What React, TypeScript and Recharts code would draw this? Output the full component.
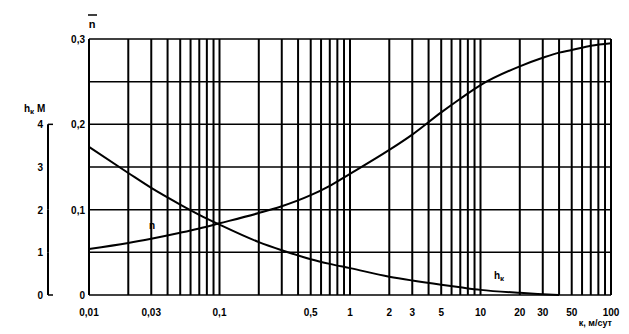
import { LineChart, Line, XAxis, YAxis, CartesianGrid } from "recharts";

const kValues = [0.01, 0.02, 0.03, 0.05, 0.07, 0.1, 0.2, 0.3, 0.5, 0.7, 1, 2, 3, 5, 7, 10, 20, 30, 40, 50, 70, 100];
const nValues = [0.054, 0.061, 0.066, 0.073, 0.078, 0.084, 0.096, 0.104, 0.117, 0.128, 0.142, 0.17, 0.188, 0.214, 0.23, 0.246, 0.268, 0.278, 0.284, 0.287, 0.292, 0.295];
const hValues = [3.47, 2.86, 2.51, 2.12, 1.88, 1.65, 1.24, 1.05, 0.84, 0.73, 0.63, 0.43, 0.34, 0.24, 0.18, 0.12, 0.05, 0.02, 0.0, null, null, null];

const xTicks = [
  0.01, 0.02, 0.03, 0.04, 0.05, 0.06, 0.07, 0.08, 0.09,
  0.1, 0.2, 0.3, 0.4, 0.5, 0.6, 0.7, 0.8, 0.9,
  1, 2, 3, 4, 5, 6, 7, 8, 9,
  10, 20, 30, 40, 50, 60, 70, 80, 90, 100,
];
const xLabels = [0.01, 0.03, 0.1, 0.5, 1, 2, 3, 5, 10, 20, 30, 50, 100];
const nTicks = [0, 0.05, 0.1, 0.15, 0.2, 0.25, 0.3];
const nLabels = [0, 0.1, 0.2, 0.3];
const hTicks = [0, 1, 2, 3, 4];

const data = kValues.map((k, i) => ({ k, n: nValues[i], h: hValues[i] }));

const W = 629;
const H = 334;
const X_AXIS_H = 30;
const M = { top: 39, right: 18, bottom: 9, left: 0 };
const STEP = (H - M.top - M.bottom - X_AXIS_H) / 6; // px per 1 m of h
const FONT = "'Liberation Sans', Arial, sans-serif";

const comma = (v: number) => String(v).replace(".", ",");

function NTick(props: any) {
  const { y, payload } = props;
  const v = payload.value;
  if (!nLabels.includes(v)) return null;
  return (
    <text x={85} y={y} dy={4} textAnchor="end" fontSize={10} fontWeight="bold" fontFamily={FONT} fill="#000">
      {comma(v)}
    </text>
  );
}

function HTick(props: any) {
  const { y, payload } = props;
  const v = payload.value;
  const bx = 48;
  return (
    <g>
      <text x={43} y={y} dy={4} textAnchor="end" fontSize={10} fontWeight="bold" fontFamily={FONT} fill="#000">
        {v}
      </text>
      {v > 0 && <line x1={bx} x2={bx} y1={y} y2={y + STEP} stroke="#000" strokeWidth={2} />}
      {(v === 0 || v === 4) && <line x1={bx} x2={bx + 5} y1={y} y2={y} stroke="#000" strokeWidth={1.5} />}
    </g>
  );
}

export default function App() {
  return (
    <div style={{ position: "absolute", left: 0, top: 0, background: "#fff" }}>
      <LineChart width={W} height={H} data={data} margin={M}>
        <CartesianGrid yAxisId="n" vertical={false} stroke="#000" strokeWidth={1.5} />
        <CartesianGrid yAxisId="n" horizontal={false} stroke="#000" strokeWidth={2} />
        <XAxis
          dataKey="k"
          type="number"
          scale="log"
          domain={[0.01, 100]}
          ticks={xTicks}
          interval={0}
          height={X_AXIS_H}
          axisLine={false}
          tickLine={false}
          tickMargin={8}
          tickFormatter={(v: number) => (xLabels.includes(v) ? comma(v) : "")}
          tick={{ fontSize: 10, fontWeight: "bold", fill: "#000", fontFamily: FONT }}
        />
        <YAxis
          yAxisId="h"
          width={53}
          domain={[0, 6]}
          ticks={hTicks}
          interval={0}
          axisLine={false}
          tickLine={false}
          tick={<HTick />}
        />
        <YAxis
          yAxisId="n"
          width={36}
          domain={[0, 0.3]}
          ticks={nTicks}
          interval={0}
          axisLine={false}
          tickLine={false}
          tick={<NTick />}
        />
        <Line yAxisId="n" type="monotone" dataKey="n" stroke="#000" strokeWidth={2} dot={false} isAnimationActive={false} />
        <Line yAxisId="h" type="monotone" dataKey="h" stroke="#000" strokeWidth={2} dot={false} isAnimationActive={false} />
        <text x={92} y={28} textAnchor="middle" fontSize={11} fontWeight="bold" fontFamily={FONT}>n</text>
        <line x1={88} x2={97} y1={15} y2={15} stroke="#000" strokeWidth={1.5} />
        <text x={24} y={112} fontSize={10} fontWeight="bold" fontFamily={FONT}>
          h<tspan fontSize={8} dy={2}>к</tspan>
          <tspan dy={-2}> М</tspan>
        </text>
        <text x={152} y={229} textAnchor="middle" fontSize={10} fontWeight="bold" fontFamily={FONT}>n</text>
        <text x={494} y={279} fontSize={10} fontWeight="bold" fontFamily={FONT}>
          h<tspan fontSize={8} dy={2}>к</tspan>
        </text>
        <text x={612} y={326} textAnchor="end" fontSize={9} fontWeight="bold" fontFamily={FONT}>к, м/сут</text>
      </LineChart>
    </div>
  );
}
